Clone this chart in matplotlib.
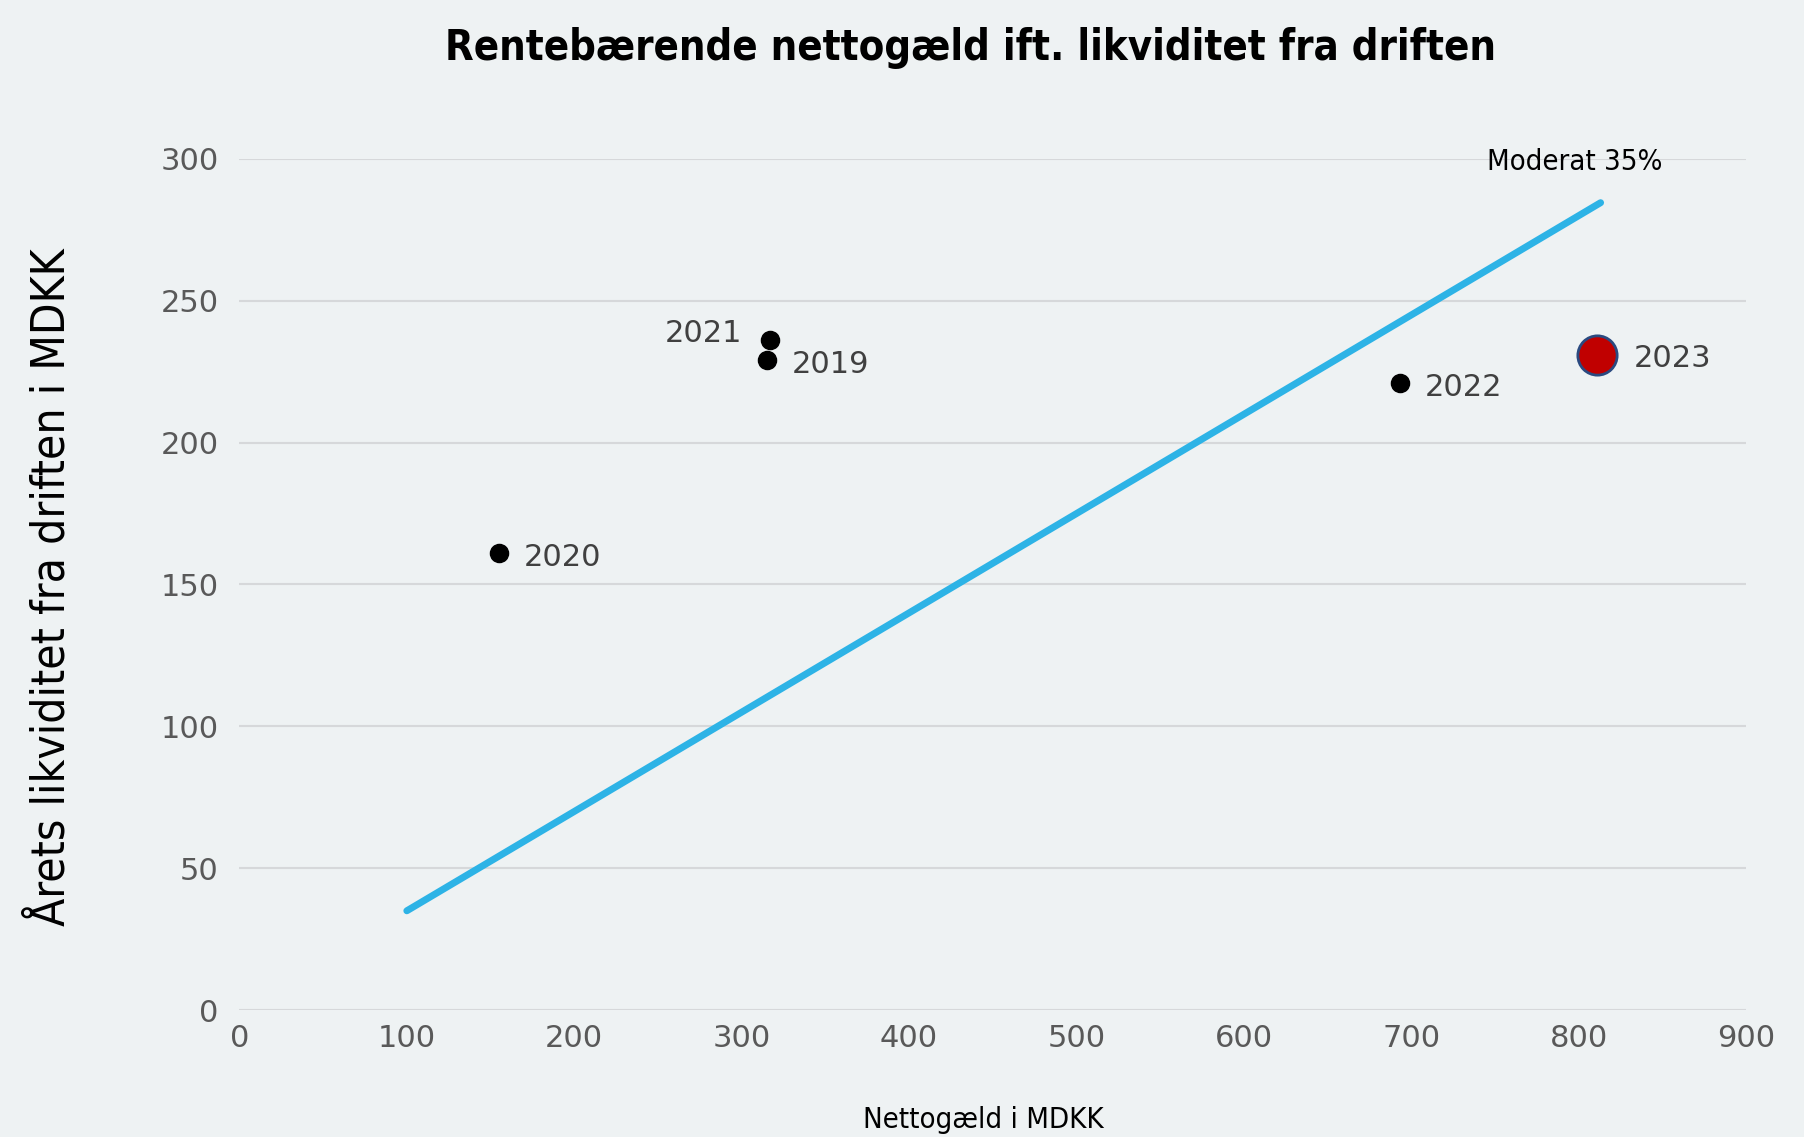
import matplotlib.pyplot as plt

# data
years = ['2019', '2020', '2021', '2022', '2023']
nettogaeld = [315, 155, 317, 693, 811]
likviditet = [229, 161, 236, 221, 231]
line_x = [100, 813]
line_y = [0.35 * v for v in line_x]
xticks = [0, 100, 200, 300, 400, 500, 600, 700, 800, 900]
yticks = [0, 50, 100, 150, 200, 250, 300]

bg = '#eef2f3'
fig = plt.figure(figsize=(18.04, 11.37), dpi=100, facecolor=bg)
ax = fig.add_axes([0.1327, 0.1116, 0.8353, 0.7487], facecolor=bg)

ax.plot(line_x, line_y, color='#2db3e6', lw=5, solid_capstyle='round', zorder=2)
ax.annotate('Moderat 35%', (line_x[1], line_y[1]), xytext=(-19, 19), textcoords='offset points',
            ha='center', va='bottom', fontsize=21, fontstretch='condensed', color='black')

for yr, x, y in zip(years, nettogaeld, likviditet):
    if yr == '2023':
        ax.scatter(x, y, s=800, color='#c00000', edgecolor='#2a4a80', lw=2, zorder=3, clip_on=False)
        off, ha = (26, -3), 'left'
    else:
        ax.scatter(x, y, s=170, color='black', zorder=3, clip_on=False)
        off, ha = (18, -3), 'left'
    if yr == '2021':
        off, ha = (-20, 5), 'right'
    ax.annotate(yr, (x, y), xytext=off, textcoords='offset points', ha=ha, va='center',
                fontsize=22, color='#404040')

ax.set_xlim(0, 900)
ax.set_ylim(0, 300)
ax.set_xticks(xticks)
ax.set_yticks(yticks)
ax.grid(axis='y', color='#d6d8da', lw=1.5)
ax.set_axisbelow(True)
for s in ax.spines.values():
    s.set_visible(False)
ax.tick_params(axis='both', length=0, labelsize=22, labelcolor='#595959')
ax.tick_params(axis='y', pad=15)
ax.tick_params(axis='x', pad=10)

fig.text(0.538, 0.958, 'Rentebærende nettogæld ift. likviditet fra driften', ha='center', va='center',
         fontsize=30, fontweight='bold', fontstretch='condensed', color='black')
fig.text(0.545, 0.015, 'Nettogæld i MDKK', ha='center', va='center', fontsize=21,
         fontstretch='condensed', color='black')
fig.text(0.029, 0.484, 'Årets likviditet fra driften i MDKK', ha='center', va='center', rotation=90,
         fontsize=33, fontstretch='condensed', color='black')

fig.savefig('out.png', dpi=100, facecolor=bg)
